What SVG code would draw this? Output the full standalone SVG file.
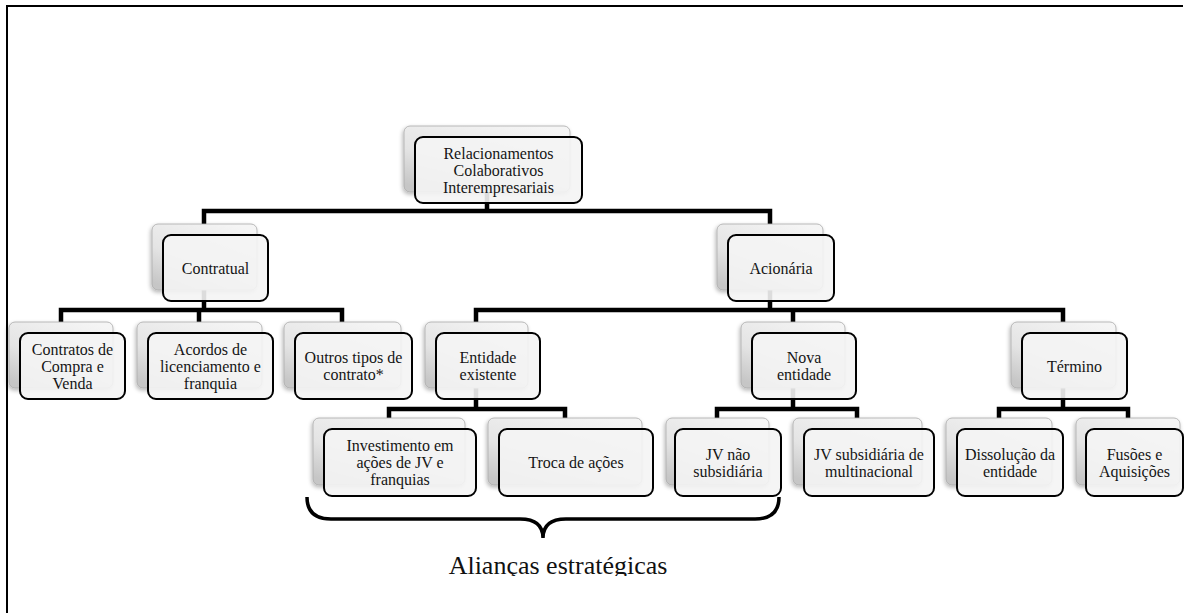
<svg xmlns="http://www.w3.org/2000/svg" width="1186" height="613" viewBox="0 0 1186 613">
  <style>
    .back { fill: url(#backGrad); stroke: #a9a9a9; stroke-width: 0.8; filter: url(#shadow); }
    .front { fill: #f4f4f4; fill-opacity: 0.9; stroke: #000; stroke-width: 2; }
    .lbl { font-family: 'Liberation Serif', 'Times New Roman', serif; font-size: 16px; fill: #151515; text-anchor: middle; }
    .conn { fill: none; stroke: #000; stroke-width: 4.5; stroke-linejoin: miter; }
    .frame { fill: none; stroke: #000; stroke-width: 2; }
  </style>
  <defs>
    <linearGradient id="backGrad" x1="0.8" y1="0" x2="0.2" y2="1">
      <stop offset="0" stop-color="#f5f5f5"/>
      <stop offset="0.6" stop-color="#e4e4e4"/>
      <stop offset="1" stop-color="#c6c6c6"/>
    </linearGradient>
    <filter id="shadow" x="-10%" y="-10%" width="120%" height="130%">
      <feGaussianBlur in="SourceAlpha" stdDeviation="2"/>
      <feOffset dx="-1" dy="2" result="b"/>
      <feComponentTransfer><feFuncA type="linear" slope="0.3"/></feComponentTransfer>
      <feMerge><feMergeNode/><feMergeNode in="SourceGraphic"/></feMerge>
    </filter>
    <clipPath id="captionClip"><rect x="0" y="540" width="1186" height="36"/></clipPath>
  </defs>

  <!-- page frame -->
  <path class="frame" d="M7,613 V6 H1183"/>

  <!-- connectors -->
  <g id="connectors">
    <path class="conn" d="M487,192 V211 M204,224 V211 H770 V224"/>
    <path class="conn" d="M204,290 V310 M61,322 V310 H342 V322 M199,310 V322"/>
    <path class="conn" d="M770,290 V310 M476,322 V310 H1063 V322 M793,310 V322"/>
    <path class="conn" d="M476,388 V409 M389,418 V409 H565 V418"/>
    <path class="conn" d="M793,388 V409 M717,418 V409 H857 V418"/>
    <path class="conn" d="M1063,388 V409 M999,418 V409 H1128 V418"/>
  </g>

  <g font-family="'Liberation Serif', 'Times New Roman', serif">
  <!-- root -->
  <g id="n-root">
    <rect class="back" x="404" y="126" width="166" height="66" rx="6"/>
    <rect class="front" x="415" y="137" width="167" height="66" rx="8"/>
    <text class="lbl" x="498.5" y="158.5">Relacionamentos</text>
    <text class="lbl" x="498.5" y="175.5">Colaborativos</text>
    <text class="lbl" x="498.5" y="192.5">Interempresariais</text>
  </g>

  <!-- level 2 -->
  <g id="n-contratual">
    <rect class="back" x="152" y="224" width="105" height="66" rx="6"/>
    <rect class="front" x="163" y="235" width="105" height="66" rx="8"/>
    <text class="lbl" x="215.5" y="273.5">Contratual</text>
  </g>
  <g id="n-acionaria">
    <rect class="back" x="717" y="224" width="106" height="66" rx="6"/>
    <rect class="front" x="728" y="235" width="106" height="66" rx="8"/>
    <text class="lbl" x="781" y="273.5">Acionária</text>
  </g>

  <!-- level 3 -->
  <g id="n-compra-venda">
    <rect class="back" x="9" y="322" width="104" height="66" rx="6"/>
    <rect class="front" x="20" y="333" width="105" height="66" rx="8"/>
    <text class="lbl" x="72.5" y="354.5">Contratos de</text>
    <text class="lbl" x="72.5" y="371.5">Compra e</text>
    <text class="lbl" x="72.5" y="388.5">Venda</text>
  </g>
  <g id="n-licenciamento">
    <rect class="back" x="137" y="322" width="125" height="66" rx="6"/>
    <rect class="front" x="148" y="333" width="125" height="66" rx="8"/>
    <text class="lbl" x="210.5" y="354.5">Acordos de</text>
    <text class="lbl" x="210.5" y="371.5">licenciamento e</text>
    <text class="lbl" x="210.5" y="388.5">franquia</text>
  </g>
  <g id="n-outros">
    <rect class="back" x="284" y="322" width="117" height="66" rx="6"/>
    <rect class="front" x="295" y="333" width="117" height="66" rx="8"/>
    <text class="lbl" x="353.5" y="363">Outros tipos de</text>
    <text class="lbl" x="353.5" y="380">contrato*</text>
  </g>
  <g id="n-existente">
    <rect class="back" x="425" y="322" width="103" height="66" rx="6"/>
    <rect class="front" x="436" y="333" width="104" height="66" rx="8"/>
    <text class="lbl" x="488" y="363">Entidade</text>
    <text class="lbl" x="488" y="380">existente</text>
  </g>
  <g id="n-nova">
    <rect class="back" x="741" y="322" width="104" height="66" rx="6"/>
    <rect class="front" x="752" y="333" width="104" height="66" rx="8"/>
    <text class="lbl" x="804" y="363">Nova</text>
    <text class="lbl" x="804" y="380">entidade</text>
  </g>
  <g id="n-termino">
    <rect class="back" x="1011" y="322" width="105" height="66" rx="6"/>
    <rect class="front" x="1022" y="333" width="105" height="66" rx="8"/>
    <text class="lbl" x="1074.5" y="371.5">Término</text>
  </g>

  <!-- level 4 -->
  <g id="n-investimento">
    <rect class="back" x="313" y="418" width="152" height="67" rx="6"/>
    <rect class="front" x="324" y="429" width="152" height="67" rx="8"/>
    <text class="lbl" x="400" y="451">Investimento em</text>
    <text class="lbl" x="400" y="468">ações de JV e</text>
    <text class="lbl" x="400" y="485">franquias</text>
  </g>
  <g id="n-troca">
    <rect class="back" x="488" y="418" width="154" height="67" rx="6"/>
    <rect class="front" x="499" y="429" width="154" height="67" rx="8"/>
    <text class="lbl" x="576" y="468">Troca de ações</text>
  </g>
  <g id="n-jv-nao">
    <rect class="back" x="666" y="418" width="103" height="67" rx="6"/>
    <rect class="front" x="675" y="429" width="106" height="67" rx="8"/>
    <text class="lbl" x="728" y="460">JV não</text>
    <text class="lbl" x="728" y="477">subsidiária</text>
  </g>
  <g id="n-jv-multi">
    <rect class="back" x="793" y="418" width="129" height="67" rx="6"/>
    <rect class="front" x="804" y="429" width="130" height="67" rx="8"/>
    <text class="lbl" x="869" y="460">JV subsidiária de</text>
    <text class="lbl" x="869" y="477">multinacional</text>
  </g>
  <g id="n-dissolucao">
    <rect class="back" x="946" y="418" width="106" height="67" rx="6"/>
    <rect class="front" x="957" y="429" width="106" height="67" rx="8"/>
    <text class="lbl" x="1010" y="460">Dissolução da</text>
    <text class="lbl" x="1010" y="477">entidade</text>
  </g>
  <g id="n-fusoes">
    <rect class="back" x="1076" y="418" width="104" height="67" rx="6"/>
    <rect class="front" x="1086" y="429" width="97" height="67" rx="8"/>
    <text class="lbl" x="1134.5" y="460">Fusões e</text>
    <text class="lbl" x="1134.5" y="477">Aquisições</text>
  </g>
  </g>

  <!-- brace grouping the strategic alliances -->
  <g id="alliances">
    <path d="M307,497 Q307,519 331,519 L520,519 Q543,519 543,538 Q543,519 566,519 L755,519 Q779,519 779,497" fill="none" stroke="#000" stroke-width="3.5"/>
    <text x="558" y="574" clip-path="url(#captionClip)" font-family="'Liberation Serif', 'Times New Roman', serif" font-size="26" fill="#111" text-anchor="middle">Alianças estratégicas</text>
  </g>
</svg>
